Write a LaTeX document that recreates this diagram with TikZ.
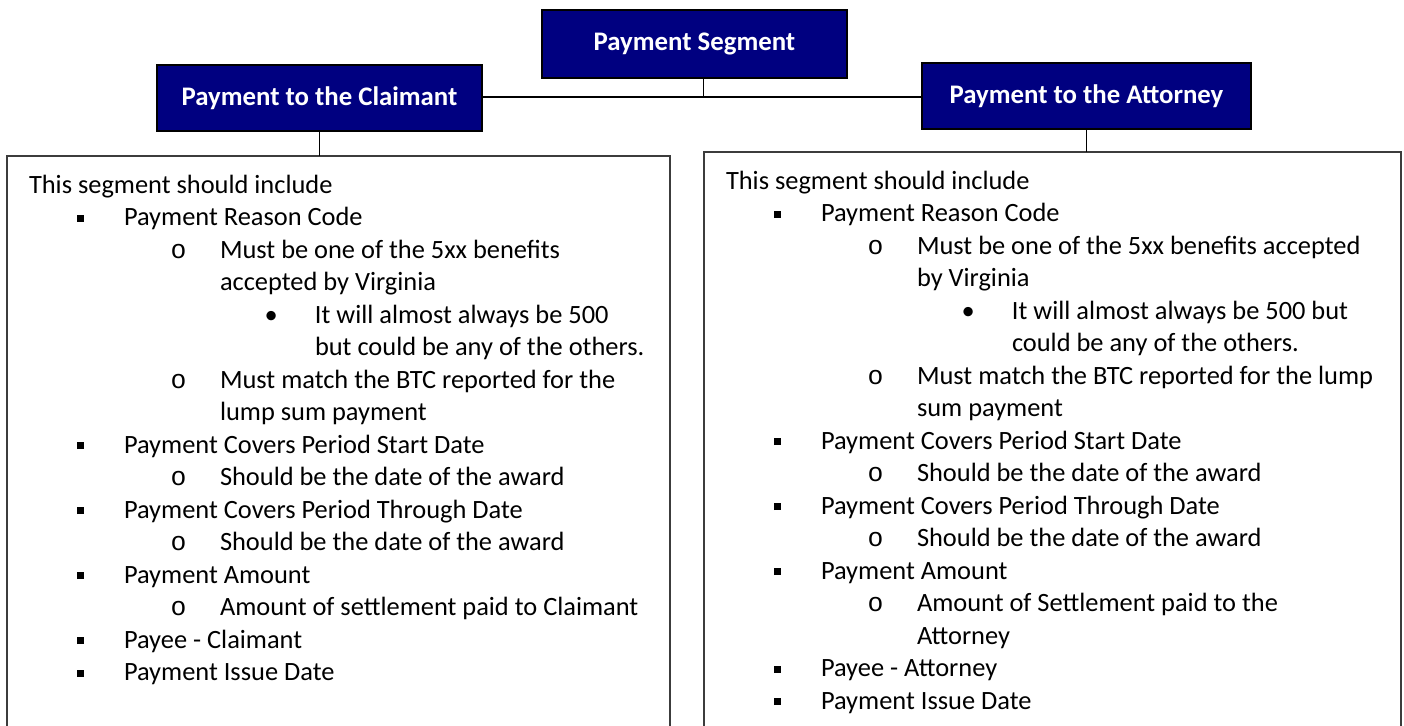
\documentclass[tikz,border=0pt]{standalone}
\usepackage{fontspec}
\setmainfont{Carlito}
\newfontfamily\monobul{Liberation Mono}
\usetikzlibrary{positioning}
\definecolor{segblue}{RGB}{0,0,128}
\definecolor{boxline}{RGB}{60,60,60}
\tikzset{
	headbox/.style = {draw=black, line width=0.8pt, fill=segblue, text=white,
		font=\bfseries\fontsize{13.4}{15}\selectfont, inner sep=0pt, outer sep=0pt},
	listbox/.style = {draw=boxline, line width=0.65pt, anchor=north west,
		inner sep=0pt, outer sep=0pt},
	line/.style = {anchor=base west, inner sep=0pt, outer sep=0pt,
		font=\fontsize{13.2}{15}\selectfont},
	link/.style = {draw=black, line width=0.5pt},
	mainlink/.style = {draw=black, line width=0.8pt}
}
% bullets of the three list levels
\newcommand{\sqbul}{\makebox[23.5pt][l]{\rule[2pt]{3.5pt}{3.5pt}}}
\newcommand{\cirbul}{\makebox[24.75pt][l]{\monobul o}}
\newcommand{\dotbul}{\makebox[25.25pt][l]{\textbullet}}
\begin{document}
\begin{tikzpicture}[x=0.5pt, y=-0.5pt]
		\useasboundingbox (0,0) rectangle (1404,725);
		\clip (0,0) rectangle (1404,725);
		% header boxes
		\node[headbox, minimum width=152.5pt, minimum height=34pt] (seg) at (694.5,44) {Payment Segment};
		\node[headbox, minimum width=162.5pt, minimum height=33pt] (claim) at (319.5,98) {Payment to the Claimant};
		\node[headbox, minimum width=164.5pt, minimum height=33pt] (atty) at (1086.5,96) {Payment to the Attorney};
		% list boxes
		\node[listbox, minimum width=331.5pt, minimum height=302pt] (lbox) at (7,156) {};
		\node[listbox, minimum width=348.5pt, minimum height=304pt] (rbox) at (704,152) {};
		% connectors
		\coordinate (hub) at (703,97);
		\draw[link] (hub |- seg.south) -- (hub);
		\draw[mainlink] (claim.east |- hub) -- (hub -| atty.west);
		\draw[link] (claim.south) -- (claim.south |- lbox.north);
		\draw[link] (atty.south) -- (atty.south |- rbox.north);
		% claimant list
		\node[line] (l1) at (29,193) {This segment should include};
		\node[line] (l2) at (77,225.5) {\sqbul Payment Reason Code};
		\node[line] (l3) at (170.5,258) {\cirbul Must be one of the 5xx benefits};
		\node[line] (l4) at (220,290.5) {accepted by Virginia};
		\node[line] (l5) at (264.5,323) {\dotbul It will almost always be 500};
		\node[line] (l6) at (315,355.5) {but could be any of the others.};
		\node[line] (l7) at (170.5,388) {\cirbul Must match the BTC reported for the};
		\node[line] (l8) at (220,420.5) {lump sum payment};
		\node[line] (l9) at (77,453) {\sqbul Payment Covers Period Start Date};
		\node[line] (l10) at (170.5,485.5) {\cirbul Should be the date of the award};
		\node[line] (l11) at (77,518) {\sqbul Payment Covers Period Through Date};
		\node[line] (l12) at (170.5,550.5) {\cirbul Should be the date of the award};
		\node[line] (l13) at (77,583) {\sqbul Payment Amount};
		\node[line] (l14) at (170.5,615.5) {\cirbul Amount of settlement paid to Claimant};
		\node[line] (l15) at (77,648) {\sqbul Payee - Claimant};
		\node[line] (l16) at (77,680.5) {\sqbul Payment Issue Date};
		% attorney list
		\node[line] (r1) at (726,189) {This segment should include};
		\node[line] (r2) at (774,221.5) {\sqbul Payment Reason Code};
		\node[line] (r3) at (867.5,254) {\cirbul Must be one of the 5xx benefits accepted};
		\node[line] (r4) at (917,286.5) {by Virginia};
		\node[line] (r5) at (961.5,319) {\dotbul It will almost always be 500 but};
		\node[line] (r6) at (1012,351.5) {could be any of the others.};
		\node[line] (r7) at (867.5,384) {\cirbul Must match the BTC reported for the lump};
		\node[line] (r8) at (917,416.5) {sum payment};
		\node[line] (r9) at (774,449) {\sqbul Payment Covers Period Start Date};
		\node[line] (r10) at (867.5,481.5) {\cirbul Should be the date of the award};
		\node[line] (r11) at (774,514) {\sqbul Payment Covers Period Through Date};
		\node[line] (r12) at (867.5,546.5) {\cirbul Should be the date of the award};
		\node[line] (r13) at (774,579) {\sqbul Payment Amount};
		\node[line] (r14) at (867.5,611.5) {\cirbul Amount of Settlement paid to the};
		\node[line] (r15) at (917,644) {Attorney};
		\node[line] (r16) at (774,676.5) {\sqbul Payee - Attorney};
		\node[line] (r17) at (774,709) {\sqbul Payment Issue Date};
\end{tikzpicture}
\end{document}
